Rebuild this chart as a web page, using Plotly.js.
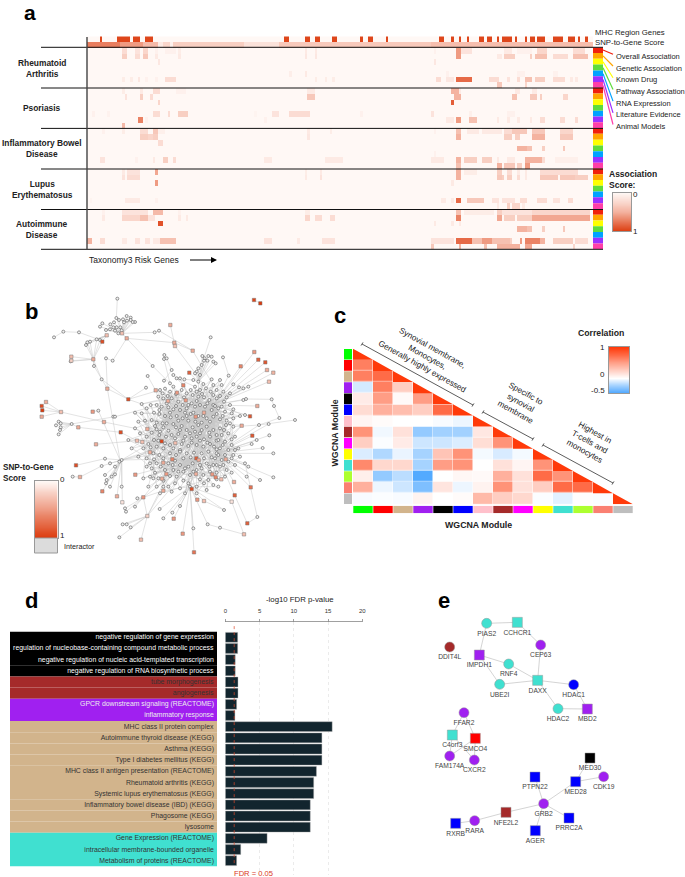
<!DOCTYPE html>
<html><head><meta charset="utf-8">
<script src="https://cdn.plot.ly/plotly-3.0.1.min.js"></script>
<style>html,body{margin:0;padding:0;background:#fff}</style></head>
<body><div id="c" style="width:685px;height:877px"></div>
<script>
/* ---------- panel a : gene runs [first gene, last gene, score] ---------- */
const mhcRuns=[[5,5,.95],[12,16,.95],[18,20,.95],[23,25,.95],[78,79,.95],[86,87,.95],[90,91,.95],[97,98,.95],[108,108,.95],[111,112,.95],[118,118,.95],[139,140,.95],[144,144,.95],[147,147,.95],[150,150,.95],[155,156,.95],[158,159,.95],[162,162,.95],[164,167,.95],[169,169,.95],[173,173,.95],[175,176,.95],[178,180,.95],[184,187,.95],[190,192,.95],[194,194,.95],[197,197,.95]];
const snpRuns=[[0,12,.72],[13,21,.6],[22,27,.45],[28,29,.1],[30,32,.25],[33,33,.05],[34,61,.3],[62,75,.16],[76,135,.34],[136,199,.42]];
const raRows=[
 [[14,15,.2],[19,20,.15],[22,23,.25],[27,27,.05],[31,34,.05],[36,36,.08],[86,86,.1],[90,90,.1],[137,137,.05],[146,147,.6],[148,151,.15],[165,167,.1],[170,175,.05],[178,181,.25],[192,196,.2]],
 [[14,15,.3],[19,20,.2],[22,23,.35],[27,27,.1],[36,36,.1],[86,86,.12],[90,90,.12],[146,147,.6],[162,163,.1],[165,168,.3],[175,175,.3],[177,181,.4],[184,189,.2],[192,197,.4]],
 [[28,28,.12],[137,137,.12]],
 [],
 [[80,80,.07],[86,86,.1],[142,142,.05],[170,172,.05],[184,185,.05]],
 [[14,14,.08],[17,17,.08],[20,20,.12],[23,23,.05],[27,27,.05],[31,34,.2],[90,90,.08],[94,94,.08],[97,97,.08],[138,139,.2],[142,144,.12],[146,151,.8],[159,162,.2],[166,166,.15],[170,170,.2],[173,175,.4],[177,180,.3],[184,188,.2],[191,191,.1],[193,193,.1]],
 [[162,163,.35],[173,173,.25]]];
const psRows=[
 [[14,14,.08],[21,21,.1],[26,28,.2],[35,38,.05],[87,89,.1],[144,146,.5],[147,147,.1],[169,170,.1],[176,177,.1]],
 [[15,15,.15],[21,21,.3],[25,25,.2],[87,89,.35],[145,147,.5],[168,169,.4],[175,176,.35],[177,177,.35],[179,179,.3],[188,189,.25]],
 [[28,28,.25],[144,144,.85]],
 [],
 [[2,2,.05],[8,8,.04],[26,26,.2],[27,28,.2],[32,32,.2],[36,39,.3],[66,66,.03],[73,75,.15],[80,87,.2],[108,108,.05],[136,136,.15],[151,151,.06],[166,168,.05]],
 [[20,21,.7],[23,23,.05],[70,70,.05],[142,144,.1],[146,147,.6],[151,153,.4],[162,162,.1],[166,166,.1],[170,170,.1],[175,175,.1],[179,180,.2],[187,188,.2],[193,193,.2]],
 [[14,14,.45]]];
const ibdRows=[
 [[6,6,.05],[14,14,.08],[21,23,.2],[26,27,.35],[28,30,.06],[87,87,.1],[96,96,.08],[137,137,.05],[146,147,.4],[150,154,.1],[156,163,.1],[165,167,.2],[168,173,.35],[176,180,.35],[187,191,.25]],
 [[21,23,.3],[24,25,.25],[26,27,.3],[87,87,.12],[146,147,.5],[165,167,.3],[169,170,.3],[176,180,.5],[187,191,.35]],
 [[28,29,.2]],
 [[170,173,.5],[174,175,.4],[180,180,.3],[188,188,.35]],
 [[137,137,.05]],
 [[5,6,.15],[19,19,.05],[26,26,.1],[30,31,.3],[34,34,.2],[70,72,.1],[94,100,.1],[136,140,.1],[146,147,.5],[149,153,.3],[156,159,.3],[162,162,.1],[166,168,.1],[173,179,.5],[180,180,.2],[185,193,.06]],
 [[146,147,.4],[162,163,.5],[165,168,.35],[170,171,.3],[173,174,.6]]];
const sleRows=[
 [[14,14,.1],[16,20,.15],[27,27,.55],[86,86,.08],[92,92,.1],[146,147,.5],[149,153,.08],[162,163,.3],[166,167,.2],[170,170,.1],[173,173,.1],[179,193,.2]],
 [[14,14,.15],[16,20,.2],[86,86,.1],[92,92,.15],[146,147,.5],[162,163,.35],[164,164,.3],[166,167,.3],[170,170,.2],[173,173,.1],[179,185,.35],[187,192,.35],[193,197,.3]],
 [[27,27,.6],[144,144,.1]],
 [],
 [],
 [[1,1,.03],[15,20,.1],[27,27,.05],[140,141,.1],[144,144,.1],[146,147,.8],[150,156,.35],[160,162,.15],[164,168,.15],[171,173,.2],[178,181,.2],[184,186,.15],[190,191,.2]],
 [[162,162,.1],[166,166,.3],[168,170,.25],[172,172,.1]]];
const aidRows=[
 [[6,6,.05],[14,23,.15],[26,29,.45],[36,36,.05],[86,87,.08],[146,147,.4],[149,160,.08],[162,163,.3],[164,175,.15],[176,198,.25]],
 [[6,6,.1],[14,20,.25],[21,23,.4],[24,26,.15],[36,36,.1],[39,39,.1],[86,87,.25],[90,92,.2],[96,97,.2],[146,147,.7],[162,163,.55],[165,168,.3],[170,175,.3],[176,198,.55]],
 [[28,29,.9],[137,137,.1],[144,144,.1],[147,147,.1]],
 [[170,173,.5],[174,175,.4],[180,180,.3],[188,188,.35]],
 [],
 [[0,1,.5],[5,6,.2],[14,15,.1],[19,20,.15],[23,24,.15],[26,28,.1],[29,34,.4],[70,72,.15],[83,83,.1],[93,97,.15],[136,144,.15],[146,151,.8],[152,155,.4],[156,159,.6],[160,166,.4],[167,167,.3],[171,171,.6],[173,178,.7],[179,180,.5],[184,191,.3],[193,197,.2]],
 [[136,136,.35],[147,147,.5],[157,157,.4],[162,170,.5],[173,175,.55],[192,192,.25]]];
const diseases=['Rheumatoid<br>Arthritis','Psoriasis','Inflammatory Bowel<br>Disease','Lupus<br>Erythematosus','Autoimmune<br>Disease'];
const evidence=['Overall Association','Genetic Association','Known Drug','Pathway Association','RNA Expression','Literature Evidence','Animal Models'];
const evidenceColors=['#f0200c','#ffa500','#ffff00','#5fdc3c','#00a2ff','#9b30ff','#ff3fa8'];
const nGenes=200;

/* ---------- panel b : network, nodes as [x, y, score]; no score = interactor ---------- */
const hubNW=[366,130,.3], hubTL=[280,208,.4], hubTL2=[320,136,.3], hubN=[595,275], hub1=[585,350], hub2=[640,345], hub3=[500,400], hub4=[600,430], hub5=[540,480], hub6=[650,490], hub7=[485,454,.95], hub8=[589,505,.8], hub9=[450,520], hub10=[570,590], hubWa=[183,366,.3], hubWb=[215,402], hubSW=[365,510], hubS1=[430,622,.5], hubS2=[442,678,.2];
const nwLeaves=[[349,84],[380,78],[369,88],[357,90],[342,97],[331,103],[307,100],[300,110],[392,83],[405,96],[398,96],[392,90],[381,92],[372,97],[361,112],[350,112],[340,112],[330,118],[345,122],[355,130],[365,121],[318,120],[380,145,.4]];
const tlLeaves=[[300,150],[290,148],[270,155],[262,157],[258,165],[307,155,.9]];
const northLeaves=[[607,198],[614,205],[625,198],[635,200],[622,212],[612,212],[605,225],[640,215],[647,220],[595,235],[590,245],[600,255],[585,250],[568,248,.8]];
const coreA=[[480,300],[495,296],[510,305],[520,290],[545,300],[560,310],[475,320],[490,325],[515,325],[535,335],[548,345],[565,345],[470,345],[485,350],[505,352],[520,358],[540,360],[555,368],[572,372],[462,368],[478,372],[495,378],[512,382],[530,378],[548,385],[565,392],[455,390],[470,398],[488,400],[520,402],[467,301,.4],[504,333,.4],[531,308,.5],[550,286,.6],[557,331,.5]];
const coreB=[[585,290],[600,300],[618,295],[632,305],[650,300],[670,305],[690,310],[578,315],[595,320],[612,322],[628,330],[650,325],[672,335],[690,345],[575,340],[600,345],[615,350],[635,360],[655,355],[675,365],[695,370],[580,368],[595,378],[620,385],[640,380],[660,388],[680,392],[700,385],[720,378],[605,398],[587,380,.5],[612,368,.4],[610,282],[635,268],[660,270],[640,285],[665,285]];
const coreC=[[405,415],[420,430],[440,440],[455,428],[470,418],[490,412],[505,422],[478,435],[462,450],[445,462],[430,475],[470,470],[490,475],[510,465],[510,490],[478,495],[460,490],[440,505],[415,500],[395,475],[385,450],[405,368],[425,342],[440,355],[425,370],[452,345],[435,392],[415,395],[411,452,.3],[427,456,.3],[450,487,.4],[442,417,.4],[526,459,.3]];
const coreD=[[528,412],[545,408],[560,420],[578,412],[595,405],[620,410],[640,420],[535,432],[555,440],[575,445],[590,440],[612,448],[630,440],[525,445],[545,462],[565,468],[590,465],[610,470],[630,462],[650,452],[540,485],[560,490],[582,488],[605,490],[625,485],[650,478]];
const coreE=[[660,415],[678,405],[700,410],[665,435],[685,430],[705,440],[655,450],[675,455],[695,465],[715,475],[660,475],[685,480],[700,495],[720,500],[645,505],[665,510],[685,515],[705,525],[640,525],[660,530],[680,540],[695,548],[630,545],[650,548],[677,508,.4],[725,407,.4],[664,568,.3]];
const coreF=[[455,535],[470,520],[482,530],[465,548],[450,560],[475,565],[495,540],[505,520],[525,512],[540,525],[520,540],[510,558],[530,560],[550,545],[565,530],[578,520],[600,525],[620,520],[590,540],[610,555],[570,555],[550,572],[525,580],[505,590],[540,595],[565,580],[590,590],[612,580],[625,570],[640,585],[470,590],[480,610],[445,590],[430,565],[517,508,.6],[490,518,.4],[596,510,.4],[588,552,.4],[499,552,.5],[637,553,.5],[647,562,.6],[486,566,.4],[406,554,.5]];
const coreG=[[488,310],[503,318],[528,312],[552,322],[572,300],[590,305],[606,312],[640,315],[660,318],[680,322],[500,340],[528,348],[560,355],[590,333],[622,340],[645,348],[665,350],[700,358],[478,360],[510,368],[535,392],[560,378],[586,395],[610,378],[630,395],[650,372],[668,378],[690,400],[465,408],[480,425],[498,440],[515,435],[540,420],[570,430],[585,425],[605,420],[628,428],[650,435],[672,420],[695,448],[452,472],[475,452],[495,460],[520,475],[550,452],[575,458],[600,452],[622,458],[642,470],[668,465],[705,480],[462,508],[490,505],[528,495],[550,505],[572,502],[612,505],[635,502],[655,495],[675,495],[695,505],[440,530],[460,565],[490,572],[518,525],[535,545],[555,535],[580,545],[605,535],[628,530],[650,525],[670,525],[490,590],[515,605],[555,610],[590,610],[620,600],[650,568],[675,560],[600,568]];
/* which node of the second list each node of the first list is tied to */
const linkAD=[3,17,9,22,1,14,25,6,11,19,0,8,23,4,16,12,2,20,7,24,10,15,5,18,21,13,3,9,17,1,25,11,6,19,14];
const linkBC=[3,17,9,22,1,14,25,6,11,19,0,8,23,4,16,12,2,20,7,24,10,15,5,18,21,13,30,27,31,26,28,32,29,3,17,9,22];
const linkEF=[12,30,4,22,38,7,41,16,25,2,33,19,9,28,36,14,0,21,6,40,11,31,17,26,3,23,35];
const linkCF=[14,5,27,1,19,32,8,24,11,36,3,29,16,22,40,6,34,13,0,26,9,37,18,30,2,21,12,38,7,25,15,33,20];
const linkBD=[11,4,19,25,7,0,16,13,22,2,9,24,5,20,15,1,18,3,12,23,8,17,10,21,6,14,2,19,4,25,11,7,0,13,16,5,22];
const linkEA=[6,18,30,2,24,12,33,9,27,15,21,3,34,8,19,26,0,13,31,5,23,10,28,16,1,20,7];
const linkGG=[40,55,61,70,44,52,66,35,47,58,29,42,63,37,74,49,31,60,25,68,78,53,33,64,72,46,28,39,76,56,43,65,71,50,59,48,0,30,1,69,11,20,8,41,23,3,67,77,13,26,5,62,9,36,2,54,17,38,4,75,12,27,6,73,15,79,18,34,21,7,24,45,10,51,14,32,16,57,19,22];
const neFan=[[763,186,.5],[775,209,.8],[796,217,.85],[722,229,.6],[801,240,.4],[820,248,.35],[807,275,.3],[686,257],[700,283],[717,292],[730,295],[745,290],[730,330],[738,327],[772,348,.4],[750,379,.85],[735,375]];
const seFan=[[757,437,.85],[777,405],[806,402],[808,436],[788,474],[770,450],[755,462],[820,490],[735,520],[745,530],[740,560],[780,570],[820,562],[702,576,.4],[752,592,.7],[704,616,.8]];
const southFan=[[479,657],[490,685],[521,686,.5],[517,668],[540,648],[548,731,.5],[580,715],[582,787,.7],[623,703],[592,629,.5],[612,633,.3],[575,597,.9],[490,602,.4],[655,590],[672,660],[695,635,.1]];
const swLeaves=[[358,515],[330,520],[345,530],[315,506],[305,528],[315,555],[320,570],[335,560],[345,553],[318,580],[330,590],[365,590],[307,604,.6],[351,619,.4],[367,637,.1]];
const s1Leaves=[[375,655],[378,665],[405,650],[412,625]];
const s2Leaves=[[368,703],[380,703],[392,712],[358,742],[423,749,.3]];
const wLeavesA=[[138,336,.4],[125,348,.9],[127,361,1],[125,380,.4]];
const wLeavesB=[[176,395],[182,400],[182,412],[168,406],[180,420],[176,433],[235,412,.4]];
const tlSide=[[214,200,.3],[214,212,.2],[212,214],[282,228]];
const chainNodes=[[352,26],[162,142],[190,125],[237,127],[464,127],[477,122],[578,182,.4],[511,105,.4],[523,158,.4],[525,168,.3],[338,212],[318,205],[305,268],[322,296,.4],[385,328,.9],[458,228],[443,258],[438,293],[632,142],[669,202],[493,195],[492,207],[500,205],[515,240],[520,255],[492,272],[510,280],[530,265],[540,265],[553,268],[580,270],[278,365,.5],[295,362],[312,396,.4],[340,380],[345,380],[362,427,.9],[288,463,.4],[228,526,.9],[218,560],[240,561,.4],[815,328],[822,348],[838,384],[885,390],[772,681],[742,700,.8],[732,733,.3],[660,713]];
const chains=[[352,26,349,84],[162,142,190,125,237,127,300,150],[366,130,464,127,477,122,578,182,640,285],[511,105,525,168,610,282],[380,145,523,158,578,182],[380,145,458,228,510,280],[380,145,338,212,318,205,322,296,385,328,480,300],[280,208,305,268,385,328,438,293],[280,208,282,228,322,296,360,510],[443,258,467,301],[385,328,425,342],[632,142,605,225],[669,202,686,257],[493,195,492,207,510,280],[500,205,515,240,492,272],[520,255,550,286],[530,265,585,290],[540,265,560,310],[553,268,580,270,595,275],[278,365,295,362],[215,402,340,380,345,380,440,355],[235,412,362,427,411,452],[312,396,183,366],[312,396,405,415],[288,463,411,452],[228,526,315,506],[218,560,240,561,305,528],[365,510,450,487],[430,622,490,602],[442,678,480,610],[442,678,430,622],[762,30,781,40],[815,328,738,327],[815,328,822,348,838,384,777,405,700,410],[885,390,777,405],[772,681,742,700,704,616],[772,681,752,592,735,520],[732,733,660,713,623,703],[732,733,695,635],[672,660,612,633],[295,362,360,510]];
const isolatedPair=[[762,30,.95],[781,40,1]];
const netWiring=[[nwLeaves,[hubNW]],[tlLeaves,[hubTL,hubTL2]],[tlSide,[hubTL]],[northLeaves,[hubN]],[coreA,[hub3]],[coreB,[hub1]],[coreC,[hub7]],[coreD,[hub4]],[coreE,[hub6]],[coreF,[hub8]],[coreG,[hub2]],[neFan,[hub2]],[seFan,[hub6]],[southFan,[hub10]],[swLeaves,[hubSW]],[s1Leaves,[hubS1]],[s2Leaves,[hubS2]],[wLeavesA,[hubWa]],[wLeavesB,[hubWb]],[[hub1,hub3,hub4,hub5,hub6,hub7,hub8,hub9,hub10,hubN,hubSW],[hub2,hub4]],[[hub10,hub9,hubS1,hubS2,hubSW],[hub8,hub5]]];
const extraNodes=[hubNW,hubTL,hubTL2,hubN,hub1,hub2,hub3,hub4,hub5,hub6,hub7,hub8,hub9,hub10,hubWa,hubWb,hubSW,hubS1,hubS2];
const crossLinks=[[coreA,coreD,linkAD],[coreB,coreC,linkBC],[coreE,coreF,linkEF],[coreC,coreF,linkCF],[coreB,coreD,linkBD],[coreE,coreA,linkEA],[coreG,coreG,linkGG]];

/* ---------- panel c ---------- */
const modules=['green','red','tan','purple','black','blue','pink','brown','magenta','yellow','turquoise','greenyellow','salmon','grey'];
const moduleColor={green:'#00ff00',red:'#ff0000',tan:'#d2b48c',purple:'#a020f0',black:'#000000',blue:'#0000ff',pink:'#ffc0cb',brown:'#a52a2a',magenta:'#ff00ff',yellow:'#ffff00',turquoise:'#40e0d0',greenyellow:'#adff2f',salmon:'#fa8072',grey:'#bebebe'};
const corrRows=[[],
 [.65],
 [.65,.75],
 [-.12,.65,.25],
 [.1,.5,.03,.5],
 [.18,.4,.33,.25,.75],
 [.05,.02,0,0,-.02,-.05],
 [.55,-.04,.15,-.3,-.26,-.26,.12],
 [.25,-.01,.1,-.14,-.14,-.1,.17,.55],
 [-.1,-.22,-.06,-.25,.3,.55,-.03,-.11,-.03],
 [.6,.2,.2,-.25,.5,.55,0,.15,.05,.55],
 [.08,-.3,-.19,-.48,0,.04,.03,.4,.15,.75,.55],
 [.4,-.05,-.14,-.36,.13,-.05,.06,.55,.15,.25,.75,.75],
 [-.02,-.01,-.02,.06,0,.02,.35,.25,.2,-.01,-.08,.01,-.01]];

/* ---------- panel d ---------- */
const termNames=['negative regulation of gene expression','regulation of nucleobase-containing compound metabolic process','negative regulation of nucleic acid-templated transcription','negative regulation of RNA biosynthetic process','tube morphogenesis','angiogenesis','GPCR downstream signaling (REACTOME)','inflammatory response','MHC class II protein complex','Autoimmune thyroid disease (KEGG)','Asthma (KEGG)','Type I diabetes mellitus (KEGG)','MHC class II antigen presentation (REACTOME)','Rheumatoid arthritis (KEGG)','Systemic lupus erythematosus (KEGG)','Inflammatory bowel disease (IBD) (KEGG)','Phagosome (KEGG)','lysosome','Gene Expression (REACTOME)','intracellular membrane-bounded organelle','Metabolism of proteins (REACTOME)'];
const termModules=['black','black','black','black','brown','brown','purple','purple','tan','tan','tan','tan','tan','tan','tan','tan','tan','tan','turquoise','turquoise','turquoise'];
const termValues=[1.8,1.8,1.45,1.45,1.85,1.85,1.65,1.4,15.6,14.1,14.1,14.1,13.3,12.9,12.9,12.4,12.4,12.4,6.1,2.25,1.65];
const fdrLine=1.3;

/* ---------- panel e ---------- */
const eNames=['PIAS2','CCHCR1','DDIT4L','IMPDH1','CEP63','RNF4','UBE2I','DAXX','HDAC1','HDAC2','MBD2','FFAR2','C4orf3','SMCO4','FAM174A','CXCR2','MED30','CDK19','PTPN22','MED28','GRB2','NFE2L2','RARA','RXRB','PRRC2A','AGER'];
const eX=[200,292,89,178,362,266,239,353,461,414,502,132,97,166,89,163,510,551,345,467,371,258,164,107,447,346];
const eY=[100,97,171,195,165,222,283,271,284,356,357,368,435,445,498,510,504,560,561,575,641,667,692,700,684,722];
const eModule=['turquoise','turquoise','brown','purple','purple','turquoise','turquoise','turquoise','blue','turquoise','purple','purple','turquoise','red','purple','purple','black','purple','blue','blue','purple','brown','purple','blue','blue','blue'];
const eRisk=[0,1,0,1,0,0,0,1,0,0,1,0,1,1,0,0,1,0,1,1,0,1,0,1,1,1];
const eEdges=[['PIAS2','CCHCR1'],['CCHCR1','CEP63'],['CEP63','DAXX'],['PIAS2','IMPDH1'],['IMPDH1','RNF4'],['IMPDH1','UBE2I'],['RNF4','DAXX'],['UBE2I','DAXX'],['DAXX','HDAC1'],['DAXX','HDAC2'],['HDAC1','MBD2'],['HDAC2','MBD2'],['FFAR2','C4orf3'],['FFAR2','SMCO4'],['C4orf3','FAM174A'],['SMCO4','FAM174A'],['SMCO4','CXCR2'],['C4orf3','CXCR2'],['MED30','MED28'],['MED28','CDK19'],['MED28','GRB2'],['PTPN22','GRB2'],['GRB2','NFE2L2'],['GRB2','PRRC2A'],['GRB2','AGER'],['NFE2L2','RARA'],['RARA','RXRB']];

/* ---------- build ---------- */
const W=685,H=877,FONT='"Liberation Sans",Arial,sans-serif';
const xd=(a,b)=>[a/W,b/W], yd=(t,b)=>[1-b/H,1-t/H];
const hidden={visible:false,fixedrange:true};
const layout={width:W,height:H,margin:{l:0,r:0,t:0,b:0},paper_bgcolor:'#fff',plot_bgcolor:'rgba(0,0,0,0)',showlegend:false,font:{family:FONT,color:'#222'},annotations:[],shapes:[]};
const traces=[];
function axes(n,xdom,ydom,xo,yo){
  const s=n===1?'':n;
  layout['xaxis'+s]=Object.assign({},hidden,{domain:xdom,anchor:'y'+s},xo||{});
  layout['yaxis'+s]=Object.assign({},hidden,{domain:ydom,anchor:'x'+s},yo||{});
  return {xaxis:'x'+s,yaxis:'y'+s};
}
function T(text,x,y,o){o=o||{};
  layout.annotations.push({text:o.bold?'<b>'+text.split('<br>').join('</b><br><b>')+'</b>':text,x:x/W,y:1-y/H,xref:'paper',yref:'paper',showarrow:false,xanchor:o.anchor||'center',yanchor:'middle',textangle:o.angle||0,align:o.align||'center',borderpad:0,font:{size:o.size||8,color:o.color||'#222',family:FONT}});
}
function L(x0,y0,x1,y1,color,w){layout.shapes.push({type:'line',xref:'paper',yref:'paper',x0:x0/W,y0:1-y0/H,x1:x1/W,y1:1-y1/H,line:{color:color,width:w}});}

/* a */
const scoreScale=[[0,'#fff8f5'],[.5,'#f4b3a0'],[1,'#dc3a0c']];
function expand(runs){const r=Array(nGenes).fill(0);runs.forEach(v=>{for(let g=v[0];g<=v[1];g++)r[g]=v[2];});return r;}
const zA=[expand(mhcRuns),expand(snpRuns)];
[raRows,psRows,ibdRows,sleRows,aidRows].forEach(b=>b.forEach(r=>zA.push(expand(r))));
const blockTop=47.3,rowH=(249.3-47.3)/35;
traces.push(Object.assign({type:'heatmap',z:zA,zmin:0,zmax:1,colorscale:scoreScale,showscale:false,hoverinfo:'skip'},
  axes(1,xd(87,593),yd(blockTop-2*rowH+.6,249.3),{range:[-.5,nGenes-.5]},{range:[36.5,-.5]})));
const stripY=[],stripC=[];
diseases.forEach((d,i)=>evidenceColors.forEach((c,j)=>{stripY.push(i*7+j);stripC.push(c);}));
traces.push(Object.assign({type:'bar',orientation:'h',y:stripY,x:stripY.map(()=>1),width:1,marker:{color:stripC,line:{width:0}},hoverinfo:'skip'},
  axes(2,xd(593,603),yd(blockTop,249.3),{range:[0,1]},{range:[34.5,-.5]})));
[47.3,88,128.4,169,209.5,249.3].forEach(y=>L(41,y,603,y,'#111',1));
L(87,37,87,249.3,'#444',1.4);
const dLabelY=[68,108,149,189,229.5];
diseases.forEach((d,i)=>T(d,42,dLabelY[i],{bold:true,size:8.4}));
T('MHC Region Genes',594,33,{anchor:'left',size:7.8});
T('SNP-to-Gene Score',594,42.5,{anchor:'left',size:7.8});
evidence.forEach((e,i)=>{const ly=56.3+i*11.7;T(e,614.5,ly,{anchor:'left',size:7.5});
  L(603,50+i*5.9,613,ly-2,evidenceColors[i],1.2);});
T('Taxonomy3 Risk Genes',88,260,{anchor:'left',size:8.5});
layout.annotations.push({text:' ',x:217/W,y:1-260/H,xref:'paper',yref:'paper',showarrow:true,ax:-30,ay:0,arrowhead:2,arrowsize:1,arrowwidth:1.2,arrowcolor:'#000'});
T('Association<br>Score:',607.5,179.5,{anchor:'left',bold:true,size:8.5,align:'left'});
const gradY=[0,.1,.2,.3,.4,.5,.6,.7,.8,.9,1];
function frame(){return {visible:true,showline:true,mirror:true,linecolor:'#999',linewidth:1,showticklabels:false,ticks:'',showgrid:false,zeroline:false,fixedrange:true};}
traces.push(Object.assign({type:'heatmap',x:[0,1],y:gradY,z:gradY.map(v=>[v,v]),zmin:0,zmax:1,zsmooth:'best',colorscale:scoreScale,showscale:false,hoverinfo:'skip'},
  axes(3,xd(613,631),yd(192.5,231),Object.assign(frame(),{range:[0,1]}),Object.assign(frame(),{range:[1,0]}))));
T('0',635,194,{size:8});T('1',635.5,232,{size:8});

/* b */
const bAxes=axes(4,xd(0,320),yd(290,580),{range:[0,960]},{range:[870,0]});
const ex=[],ey=[];
netWiring.forEach(w=>w[0].forEach(n=>w[1].forEach(h=>{if(n!==h){ex.push(n[0],h[0],null);ey.push(n[1],h[1],null);}})));
chains.forEach(c=>{for(let i=0;i<c.length;i+=2){ex.push(c[i]);ey.push(c[i+1]);}ex.push(null);ey.push(null);});
crossLinks.forEach(k=>k[2].forEach((j,i)=>{ex.push(k[0][i][0],k[1][j][0],null);ey.push(k[0][i][1],k[1][j][1],null);}));
traces.push(Object.assign({type:'scatter',mode:'lines',x:ex,y:ey,line:{color:'#c6c6c6',width:.5},hoverinfo:'skip'},bAxes));
const allNodes=[].concat(extraNodes,chainNodes,isolatedPair,...netWiring.slice(0,19).map(w=>w[0]));
const plain=allNodes.filter(n=>n[2]===undefined), risk=allNodes.filter(n=>n[2]!==undefined);
traces.push(Object.assign({type:'scatter',mode:'markers',x:plain.map(n=>n[0]),y:plain.map(n=>n[1]),marker:{symbol:'circle',size:3,color:'#f0f0f0',line:{color:'#555',width:.6}},hoverinfo:'skip'},bAxes));
traces.push(Object.assign({type:'scatter',mode:'markers',x:risk.map(n=>n[0]),y:risk.map(n=>n[1]),marker:{symbol:'square',size:3.4,color:risk.map(n=>n[2]),cmin:0,cmax:1,colorscale:[[0,'#fff8f5'],[1,'#dc3a0c']],line:{color:'#777',width:.5}},hoverinfo:'skip'},bAxes));
T('SNP-to-Gene<br>Score',2,473,{anchor:'left',bold:true,size:8.2,align:'left'});
traces.push(Object.assign({type:'heatmap',x:[0,1],y:gradY,z:gradY.map(v=>[v,v]),zmin:0,zmax:1,zsmooth:'best',colorscale:[[0,'#fff8f5'],[1,'#dc3a0c']],showscale:false,hoverinfo:'skip'},
  axes(5,xd(34.5,57.5),yd(481,538),Object.assign(frame(),{range:[0,1]}),Object.assign(frame(),{range:[1,0]}))));
layout.shapes.push({type:'rect',xref:'paper',yref:'paper',x0:34.5/W,x1:57.5/W,y0:1-538/H,y1:1-553/H,fillcolor:'#dcdcdc',line:{color:'#999',width:1}});
T('0',62.5,479.5,{size:8});T('1',62.5,535,{size:8});T('Interactor',63,546,{anchor:'left',size:7.2});

/* c */
const n=modules.length;
const corrScale=[[0,'#4ca6ff'],[1/3,'#ffffff'],[1,'#ff3a0a']];
const zC=modules.map((m,i)=>modules.map((q,j)=>j<i?corrRows[i][j]:null));
const cDom=[xd(353,633),yd(348.7,504.3)];
const cAxes=axes(6,cDom[0],cDom[1],{range:[-.5,n-.5]},{range:[n-.5,-.5]});
traces.push(Object.assign({type:'heatmap',z:zC,x:modules.map((m,i)=>i),y:modules.map((m,i)=>i),zmin:-.5,zmax:1,colorscale:corrScale,showscale:false,xgap:.5,ygap:.5,hoverinfo:'skip',hoverongaps:false},cAxes));
const tx=[],ty=[];
modules.forEach((m,i)=>{tx.push(i-.5,i-.5,i+.5,i-.5,null);ty.push(i-.5,i+.5,i+.5,i-.5,null);});
traces.push(Object.assign({type:'scatter',mode:'lines',x:tx,y:ty,fill:'toself',fillcolor:'#ff3a0a',line:{width:0,color:'#ff3a0a'},hoverinfo:'skip'},cAxes));
const idx=modules.map((m,i)=>i), modCols=modules.map(m=>moduleColor[m]);
traces.push(Object.assign({type:'bar',orientation:'h',y:idx,x:idx.map(()=>1),width:.95,marker:{color:modCols,line:{width:0}},hoverinfo:'skip'},
  axes(7,xd(344,352),cDom[1],{range:[0,1]},{range:[n-.5,-.5]})));
traces.push(Object.assign({type:'bar',x:idx,y:idx.map(()=>1),width:.97,marker:{color:modCols,line:{width:0}},hoverinfo:'skip'},
  axes(8,cDom[0],yd(505.7,513.3),{range:[-.5,n-.5]},{range:[0,1]})));
const corrTicks=[1,.75,.5,.25,0,-.25,-.5];
traces.push(Object.assign({type:'heatmap',x:[0,1],y:corrTicks,z:corrTicks.map(v=>[v,v]),zmin:-.5,zmax:1,zsmooth:'best',colorscale:corrScale,showscale:false,hoverinfo:'skip'},
  axes(9,xd(608.5,629),yd(347,393),Object.assign(frame(),{range:[0,1]}),Object.assign(frame(),{range:[-.5,1]}))));
T('Correlation',600.5,333,{bold:true,size:8.7});
T('1',602,347.5,{size:8});T('0',602,374,{size:8});T('-0.5',598,390.5,{size:8});
T('WGCNA Module',478.7,525,{bold:true,size:8.8});
T('WGCNA Module',334.5,433,{bold:true,size:8.8,angle:-90});
T('Synovial membrane,<br>Monocytes,<br>Generally highly expressed',427,357,{size:8.2,angle:29});
T('Specific to<br>synovial<br>membrane',521,403,{size:8.2,angle:29});
T('Highest in<br>T-cells and<br>monocytes',590,442,{size:8.2,angle:29});
[[362,344,473,405],[483,412,533,439],[543,445,613,483]].forEach(b=>{L(b[0],b[1],b[2],b[3],'#333',.8);
  L(b[0]-1,b[1]+1.6,b[0]+1,b[1]-1.6,'#333',.8);L(b[2]-1,b[3]+1.6,b[2]+1,b[3]-1.6,'#333',.8);});

/* d */
const dy0=637.3,dStep=11.17,dRange=[(875-dy0)/dStep,(622.3-dy0)/dStep];
const rows=termNames.map((t,i)=>i);
const textCols=termModules.map(m=>m==='black'?'#ffffff':m==='purple'?'#eeeeee':'#333333');
traces.push(Object.assign({type:'bar',orientation:'h',y:rows,x:rows.map(()=>1),width:1,text:termNames,textposition:'inside',insidetextanchor:'end',textangle:0,constraintext:'none',cliponaxis:false,textfont:{size:6.9,color:textCols,family:FONT},marker:{color:termModules.map(m=>moduleColor[m]),line:{width:0}},hoverinfo:'skip'},
  axes(10,xd(10,217),yd(622.3,875),{range:[0,1]},{range:dRange})));
const dAxes=axes(11,xd(225.3,362.3),yd(622.3,875),
  {visible:true,range:[0,20],side:'top',tickvals:[0,5,10,15,20],ticks:'outside',ticklen:3,tickwidth:.8,tickcolor:'#888',showline:true,linecolor:'#888',linewidth:.8,showgrid:true,griddash:'dot',gridcolor:'#dddddd',gridwidth:.6,zeroline:false,tickfont:{size:6,color:'#333'},ticklabelstandoff:3,fixedrange:true},
  {range:dRange});
traces.push(Object.assign({type:'bar',orientation:'h',y:rows,x:termValues,width:.88,marker:{color:'#12252e',line:{color:'#aaa',width:.4}},hoverinfo:'skip'},dAxes));
traces.push(Object.assign({type:'scatter',mode:'lines',x:[fdrLine,fdrLine],y:[-1,dRange[0]-.9],line:{color:'#e0492a',width:.7,dash:'dot'},hoverinfo:'skip'},dAxes));
T('-log10 FDR p-value',299.5,599,{size:7.8});
T('FDR = 0.05',253.5,873.5,{size:7.6,color:'#d9381e'});

/* e */
const eAxes=axes(12,xd(420,650),yd(590,870),{range:[0,690]},{range:[840,0]});
const elx=[],ely=[];
eEdges.forEach(e=>{const a=eNames.indexOf(e[0]),b=eNames.indexOf(e[1]);elx.push(eX[a],eX[b],null);ely.push(eY[a],eY[b],null);});
traces.push(Object.assign({type:'scatter',mode:'lines',x:elx,y:ely,line:{color:'#cfcfcf',width:.9},hoverinfo:'skip'},eAxes));
traces.push(Object.assign({type:'scatter',mode:'markers+text',x:eX,y:eY,text:eNames,textposition:'bottom center',textfont:{size:6.7,color:'#444',family:FONT},
  marker:{size:10,symbol:eRisk.map(r=>r?'square':'circle'),color:eModule.map(m=>moduleColor[m]),line:{color:'#999',width:.5}},hoverinfo:'skip'},eAxes));

/* panel letters */
[['a',30,12.5,21],['b',31,311,22],['c',340,315,22],['d',31,600,22],['e',444,600,22]].forEach(p=>T(p[0],p[1],p[2],{bold:true,size:p[3],color:'#000'}));

Plotly.newPlot('c',traces,layout,{staticPlot:true,displayModeBar:false});
</script></body></html>
